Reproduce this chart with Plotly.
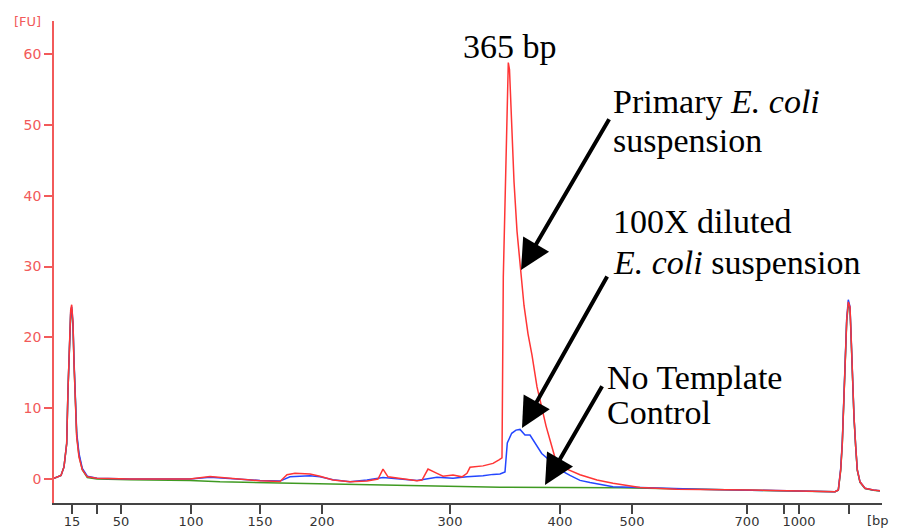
import plotly.graph_objects as go

# migration time (s) and fluorescence (FU) readings
red_t = [40.0, 40.7, 41.0, 41.27, 41.4, 41.53, 41.67, 41.77, 41.9, 42.0, 42.13, 42.27, 42.5, 42.83, 43.33, 44.3,
         47.6, 50.6, 53.6, 55.6, 57.6, 60.6, 62.6, 63.3, 64.1, 65.6, 66.6, 67.9, 69.6, 71.3, 72.4, 72.9, 73.4,
         74.6, 76.3, 76.8, 77.4, 78.3, 78.9, 79.9, 80.8, 81.3, 81.6, 82.9, 83.9, 84.5, 84.8, 84.93, 85.2, 85.33,
         85.43, 85.55, 85.7, 85.8, 86.0, 86.3, 86.7, 87.0, 87.4, 87.8, 88.3, 88.7, 89.2, 89.7, 90.1, 90.6, 91.3,
         92.6, 94.3, 95.9, 98.6, 102.3, 104.6, 109.6, 114.6, 118.1, 118.43, 118.67, 118.83, 119.0, 119.17, 119.27,
         119.43, 119.6, 119.7, 119.83, 120.0, 120.17, 120.33, 120.6, 121.1, 121.93, 122.6]
red_fu = [0.1, 0.5, 1.7, 5.0, 12.6, 19.2, 23.9, 24.6, 22.0, 16.4, 10.7, 5.9, 3.1, 1.3, 0.3, 0.1,
          0.0, 0.05, 0.0, 0.35, 0.1, -0.25, -0.35, 0.6, 0.8, 0.7, 0.4, -0.15, -0.4, -0.3, 0.0, 1.4, 0.3,
          0.1, -0.25, -0.15, 1.4, 0.8, 0.4, 0.55, 0.3, 0.8, 1.65, 1.85, 2.2, 2.7, 3.0, 28.5, 46.4, 55.9,
          58.8, 57.8, 52.0, 47.0, 42.0, 35.0, 29.5, 24.5, 20.5, 17.5, 13.0, 10.5, 7.5, 5.0, 3.0, 2.0, 1.4,
          0.6, -0.15, -0.6, -1.2, -1.45, -1.45, -1.55, -1.7, -1.8, -1.55, 1.3, 5.0, 11.6, 17.7, 22.4,
          25.0, 24.3, 20.6, 14.4, 8.8, 4.6, 1.3, -0.4, -1.3, -1.55, -1.65]

blue_t = [40.0, 40.7, 41.0, 41.27, 41.4, 41.53, 41.67, 41.77, 41.9, 42.0, 42.13, 42.27, 42.5, 42.83, 43.33, 44.3,
          47.6, 50.6, 53.6, 55.6, 57.6, 60.6, 62.6, 63.6, 65.6, 66.6, 67.9, 69.6, 71.3, 72.9, 74.6, 76.3,
          78.3, 79.9, 81.3, 82.9, 83.9, 84.6, 85.1, 85.33, 85.77, 86.2, 86.6, 87.1, 87.6, 88.1, 88.77, 89.6,
          90.1, 90.6, 91.6, 92.6, 93.6, 95.9, 98.6, 104.6, 114.6, 118.1, 118.43, 118.67, 118.83, 119.0, 119.17,
          119.27, 119.43, 119.6, 119.7, 119.83, 120.0, 120.17, 120.33, 120.6, 121.1, 121.93, 122.6]
blue_fu = [0.1, 0.5, 1.7, 5.0, 12.6, 19.2, 23.6, 24.3, 22.0, 16.8, 11.5, 6.5, 3.6, 1.5, 0.4, 0.1,
           0.0, 0.0, 0.0, 0.25, 0.05, -0.2, -0.3, 0.3, 0.45, 0.3, -0.1, -0.4, -0.15, 0.2, 0.0, -0.2,
           0.25, 0.1, 0.3, 0.45, 0.65, 0.7, 1.0, 5.1, 6.45, 6.9, 7.0, 6.2, 6.2, 5.0, 3.6, 2.6,
           2.0, 1.3, 0.5, -0.2, -0.5, -1.1, -1.2, -1.45, -1.7, -1.8, -1.55, 1.5, 5.3, 12.0, 18.0,
           22.6, 25.3, 24.3, 20.6, 14.4, 8.8, 4.6, 1.3, -0.4, -1.3, -1.55, -1.65]

green_t = [40.0, 40.7, 41.0, 41.27, 41.4, 41.53, 41.67, 41.77, 41.9, 42.0, 42.13, 42.27, 42.5, 42.83, 43.33, 44.3,
           47.6, 50.6, 53.6, 56.6, 60.6, 64.6, 68.6, 72.6, 76.6, 80.6, 84.6, 90.6, 96.6, 104.6, 114.6, 118.1,
           118.43, 118.67, 118.83, 119.0, 119.17, 119.27, 119.43, 119.6, 119.7, 119.83, 120.0, 120.17, 120.33,
           120.6, 121.1, 121.93, 122.6]
green_fu = [0.1, 0.5, 1.7, 5.0, 12.6, 19.2, 23.3, 24.0, 21.5, 16.4, 11.0, 6.2, 3.3, 1.3, 0.2, 0.0,
            -0.1, -0.15, -0.2, -0.4, -0.5, -0.6, -0.8, -0.9, -1.0, -1.1, -1.15, -1.2, -1.25, -1.45, -1.7, -1.8,
            -1.6, 1.2, 5.0, 11.4, 17.5, 22.2, 24.6, 24.0, 20.3, 14.2, 8.6, 4.5, 1.2,
            -0.5, -1.35, -1.6, -1.7]

# bp ladder tick positions (migration time) and labels
x_tickvals = [41.8, 44.3, 46.7, 53.7, 60.6, 66.8, 79.6, 90.6, 97.8, 109.3, 113.0, 114.5, 119.5]
x_ticktext = ["15", "", "50", "100", "150", "200", "300", "400", "500", "700", "", "1000", ""]
y_tickvals = [0, 10, 20, 30, 40, 50, 60]

RED_AX = "#f25a5a"

fig = go.Figure()
fig.add_trace(go.Scatter(x=green_t, y=green_fu, mode="lines", line=dict(color="#3f9a22", width=1.5), showlegend=False))
fig.add_trace(go.Scatter(x=blue_t, y=blue_fu, mode="lines", line=dict(color="#2446ff", width=1.5), showlegend=False))
fig.add_trace(go.Scatter(x=red_t, y=red_fu, mode="lines", line=dict(color="#ff3535", width=1.5), showlegend=False))

serif = dict(family="Liberation Serif, Times New Roman, serif", size=34, color="black")

def arrow(x, y, ax, ay):
    fig.add_annotation(x=x, y=y, ax=ax, ay=ay, xref="x", yref="y", axref="x", ayref="y",
                       text="", showarrow=True, arrowhead=2, arrowsize=1.5, arrowwidth=4,
                       arrowcolor="black", standoff=0)

arrow(86.7, 29.5, 95.6, 51.0)
arrow(86.8, 7.2, 95.4, 28.8)
arrow(89.1, -0.85, 94.9, 13.3)

def label(text, x, y, anchor="left"):
    fig.add_annotation(x=x, y=y, xref="paper", yref="paper", text=text, showarrow=False,
                       font=serif, xanchor=anchor, yanchor="middle", align="left", borderpad=0)

label("365 bp", 0.5507, 0.948, "center")
label("Primary <i>E. coli</i>", 0.674, 0.834)
label("suspension", 0.674, 0.753)
label("100X diluted", 0.674, 0.583)
label("<i>E. coli</i> suspension", 0.674, 0.50)
label("No Template", 0.6667, 0.261)
label("Control", 0.6667, 0.187)

fig.add_annotation(x=-0.0326, y=1.0, xref="paper", yref="paper", text="[FU]", showarrow=False,
                   font=dict(family="DejaVu Sans", size=13, color=RED_AX), xanchor="center", yanchor="middle")
fig.add_annotation(x=0.9795, y=-0.036, xref="paper", yref="paper", text="[bp]", showarrow=False,
                   font=dict(family="DejaVu Sans", size=13, color="#333333"), xanchor="left", yanchor="middle")

# page body has an 8px margin, so the figure is sized to fill the rest of the window
fig.update_layout(
    width=889, height=522,
    margin=dict(l=46, r=15, t=13, b=27, autoexpand=False),
    paper_bgcolor="white", plot_bgcolor="white",
    xaxis=dict(range=[40, 122.8], tickmode="array", tickvals=x_tickvals, ticktext=x_ticktext,
               automargin=False, ticklabelstandoff=-3,
               showgrid=False, zeroline=False, showline=True, linecolor="#444444", linewidth=1.5,
               ticks="outside", ticklen=9, tickwidth=1.5, tickcolor="#444444",
               tickfont=dict(family="DejaVu Sans", size=13, color="#333333")),
    yaxis=dict(range=[-3.39, 64.66], tickmode="array", tickvals=y_tickvals,
               automargin=False,
               showgrid=False, zeroline=False, showline=True, linecolor=RED_AX, linewidth=1.5,
               ticks="outside", ticklen=8, tickwidth=1.5, tickcolor=RED_AX,
               tickfont=dict(family="DejaVu Sans", size=14, color=RED_AX)),
)

fig.write_html("out.html")
